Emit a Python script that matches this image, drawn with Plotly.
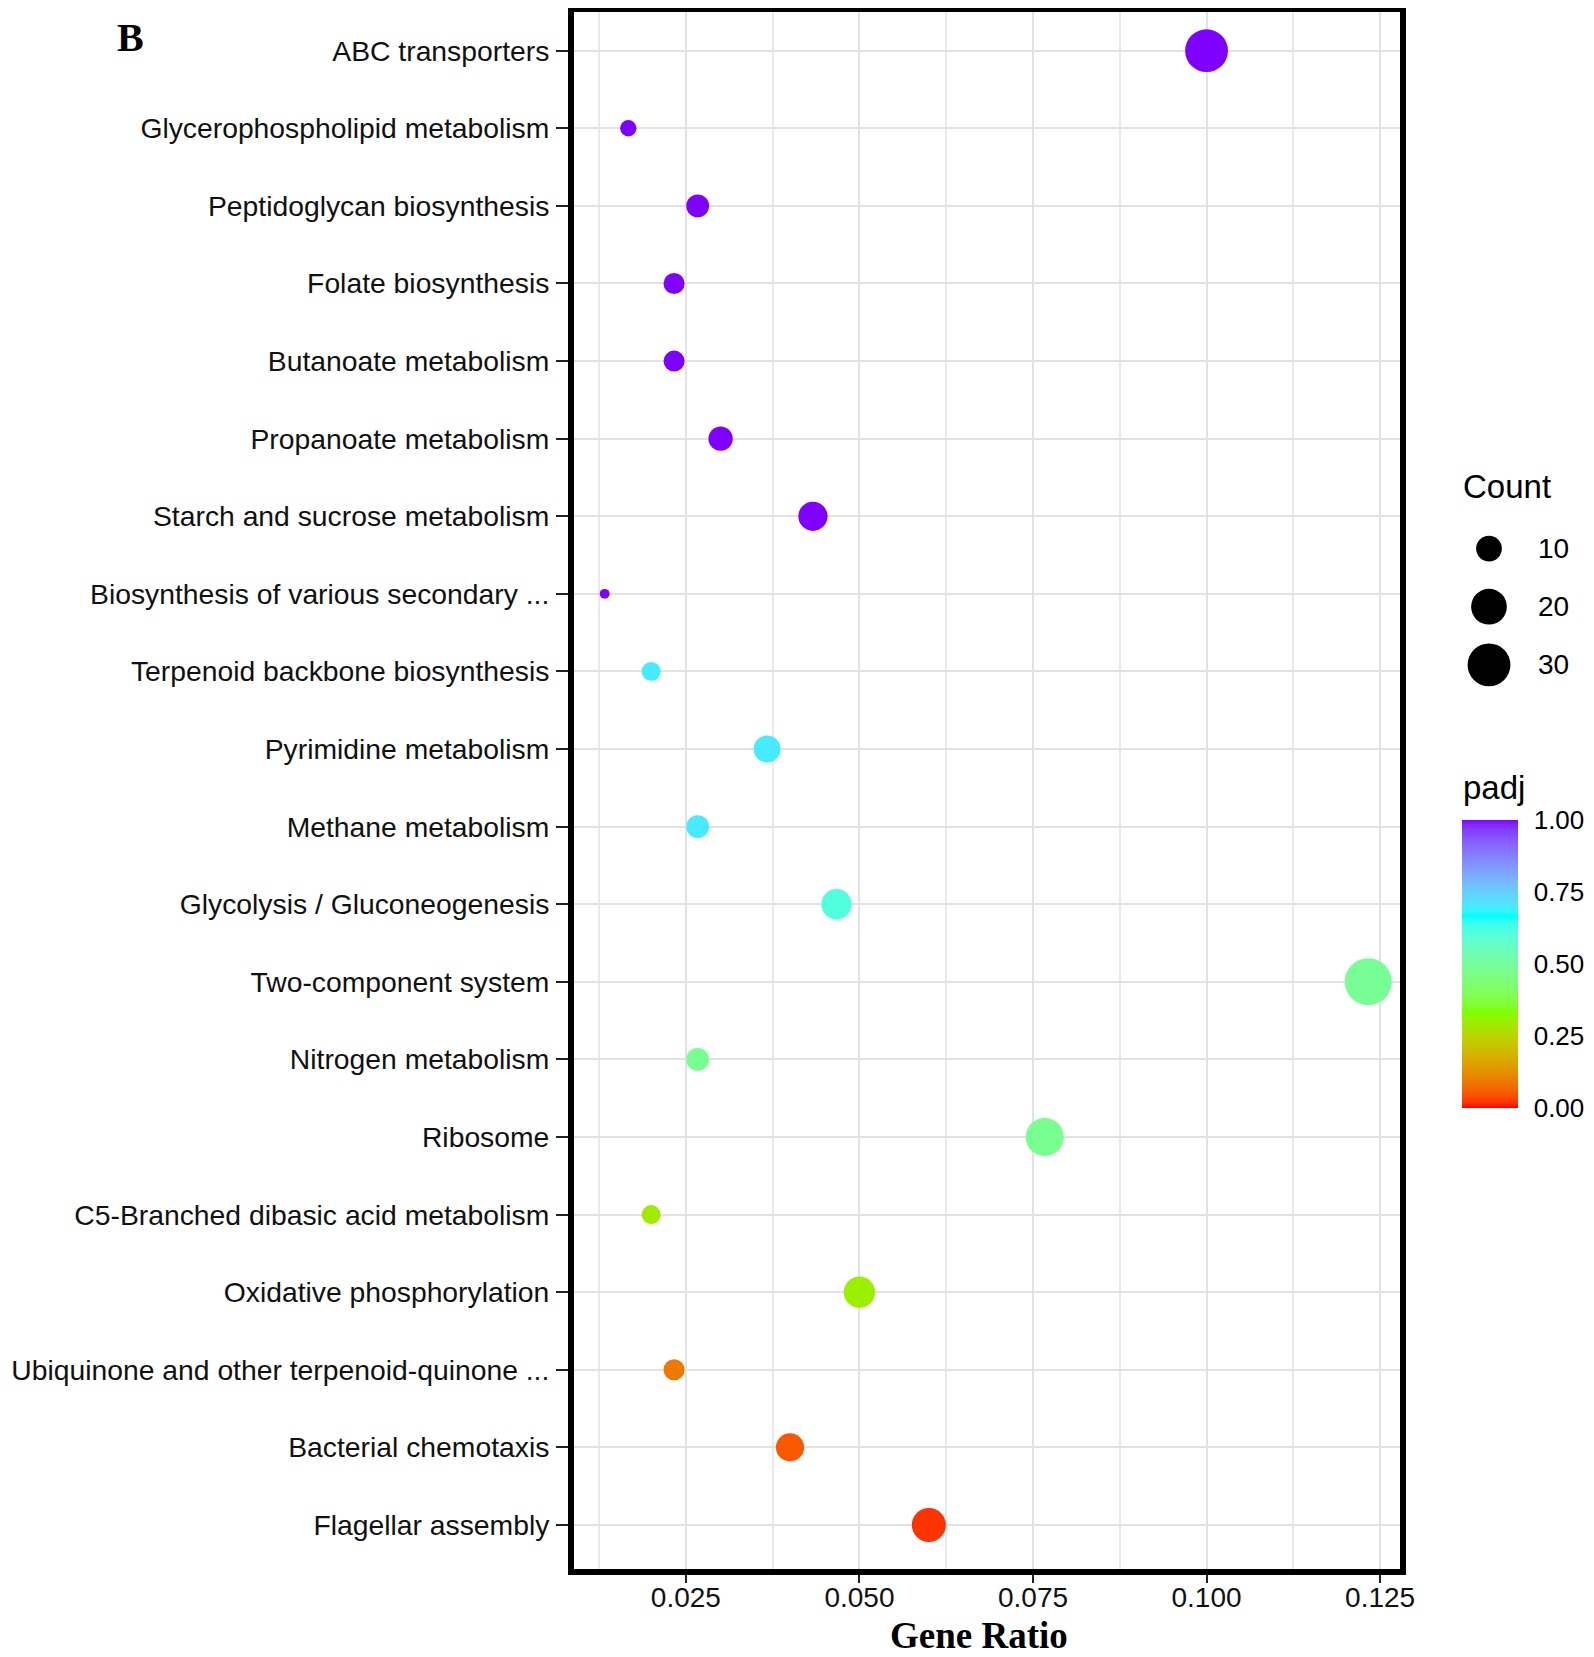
import numpy as np
import plotly.graph_objects as go

# ---------------- data ----------------
pathways = [
    "ABC transporters",
    "Glycerophospholipid metabolism",
    "Peptidoglycan biosynthesis",
    "Folate biosynthesis",
    "Butanoate metabolism",
    "Propanoate metabolism",
    "Starch and sucrose metabolism",
    "Biosynthesis of various secondary ...",
    "Terpenoid backbone biosynthesis",
    "Pyrimidine metabolism",
    "Methane metabolism",
    "Glycolysis / Gluconeogenesis",
    "Two-component system",
    "Nitrogen metabolism",
    "Ribosome",
    "C5-Branched dibasic acid metabolism",
    "Oxidative phosphorylation",
    "Ubiquinone and other terpenoid-quinone ...",
    "Bacterial chemotaxis",
    "Flagellar assembly",
]
gene_ratio = [0.1000, 0.0167, 0.0267, 0.0233, 0.0233, 0.0300, 0.0433, 0.0133,
              0.0200, 0.0367, 0.0267, 0.0467, 0.1233, 0.0267, 0.0767, 0.0200,
              0.0500, 0.0233, 0.0400, 0.0600]
counts = [30, 5, 8, 7, 7, 9, 13, 4, 6, 11, 8, 14, 37, 8, 23, 6, 15, 7, 12, 18]
padj = [1.00, 1.00, 1.00, 1.00, 1.00, 1.00, 1.00, 1.00,
        0.70, 0.70, 0.70, 0.61, 0.49, 0.48, 0.48, 0.29,
        0.30, 0.09, 0.05, 0.02]

x_ticks = [0.025, 0.050, 0.075, 0.100, 0.125]
x_ticktext = ["0.025", "0.050", "0.075", "0.100", "0.125"]
legend_counts = [10, 20, 30]
cbar_ticks = [0.0, 0.25, 0.5, 0.75, 1.0]
cbar_ticktext = ["0.00", "0.25", "0.50", "0.75", "1.00"]

# ---------------- colour scale (rainbow(4), Lab interpolation) ----------------
base_cols = ["#FF0000", "#80FF00", "#00FFFF", "#8000FF"]
WHITE = np.array([0.95047, 1.0, 1.08883])
M = np.array([[0.4124, 0.3576, 0.1805], [0.2126, 0.7152, 0.0722], [0.0193, 0.1192, 0.9505]])
Minv = np.linalg.inv(M)


def hex_to_lab(h):
    rgb = np.array([int(h[i:i + 2], 16) / 255 for i in (1, 3, 5)])
    lin = np.where(rgb <= 0.04045, rgb / 12.92, ((rgb + 0.055) / 1.055) ** 2.4)
    xyz = M @ lin / WHITE
    f = np.where(xyz > 0.008856, np.cbrt(xyz), 7.787 * xyz + 16 / 116)
    return np.array([116 * f[1] - 16, 500 * (f[0] - f[1]), 200 * (f[1] - f[2])])


def lab_to_hex(lab):
    L, a, b = lab
    fy = (L + 16) / 116
    fx = fy + a / 500
    fz = fy - b / 200
    f = np.array([fx, fy, fz])
    xyz = np.where(f ** 3 > 0.008856, f ** 3, (f - 16 / 116) / 7.787) * WHITE
    lin = np.clip(Minv @ xyz, 0, 1)
    rgb = np.where(lin <= 0.0031308, 12.92 * lin, 1.055 * lin ** (1 / 2.4) - 0.055)
    rgb = np.clip(rgb, 0, 1)
    return "#%02x%02x%02x" % tuple(int(round(v * 255)) for v in rgb)


labs = [hex_to_lab(c) for c in base_cols]
colorscale = []
nstops = 61
for i in range(nstops):
    t = i / (nstops - 1)
    seg = min(int(t * 3), 2)
    u = t * 3 - seg
    colorscale.append([t, lab_to_hex(labs[seg] * (1 - u) + labs[seg + 1] * u)])

# ---------------- size scale (ggplot-like area scale) ----------------
cmin, cmax = min(counts), max(counts)


def to_diam(c):
    s = 1 + 5 * np.sqrt((np.asarray(c, float) - cmin) / (cmax - cmin))
    return 2.61 * (2.845 * s + 0.945)


# ---------------- geometry (page coords -> figure coords, body margin 8px) ----------------
OFF = 8
W, H = 1594 - OFF, 1657 - OFF
ML = 571 - OFF
MT = 1
MB = H - (1572 - OFF)
MR = 0
PW = W - ML - MR
PH = H - MT - MB


def px(page_x):
    return (page_x - OFF - ML) / PW


def py(page_y):
    return 1 - (page_y - OFF - MT) / PH


plot_top_page = MT + OFF
plot_bot_page = 1572
cat_top_page, cat_bot_page = 50.7, 1525.0
step = (cat_bot_page - cat_top_page) / (len(pathways) - 1)
y_range = [len(pathways) - 1 + (plot_bot_page - cat_bot_page) / step,
           -(cat_top_page - plot_top_page) / step]

FONT = "Liberation Sans, Arial, Helvetica, sans-serif"
SERIF = "Liberation Serif, Times New Roman, serif"

# colorbar geometry (page coords)
cb_left, cb_right, cb_top, cb_bot = 1462, 1518, 820, 1108

fig = go.Figure()

fig.add_trace(go.Scatter(
    x=gene_ratio, y=pathways, mode="markers",
    marker=dict(
        size=to_diam(counts), sizemode="diameter",
        color=padj, colorscale=colorscale, cmin=0, cmax=1,
        line=dict(width=0), opacity=1,
        colorbar=dict(
            x=px(cb_left), xanchor="left", xpad=0,
            y=py((cb_top + cb_bot) / 2), yanchor="middle", ypad=0,
            thickness=cb_right - cb_left, len=cb_bot - cb_top, lenmode="pixels",
            outlinewidth=0,
            tickvals=cbar_ticks, ticktext=cbar_ticktext,
            ticks="outside", ticklen=11, tickwidth=1, tickcolor="white",
            tickfont=dict(family=FONT, size=26, color="black"),
        ),
    ),
    showlegend=False, hoverinfo="x+y",
    xaxis="x", yaxis="y",
))

# size legend (numeric y axis: one row per legend count)
leg_y = [548.6, 664.9]
leg_step_px = (leg_y[1] - leg_y[0]) / (len(legend_counts) - 1)
leg_unit = legend_counts[1] - legend_counts[0]

fig.add_trace(go.Scatter(
    x=[0.5] * len(legend_counts), y=legend_counts, mode="markers",
    marker=dict(size=to_diam(legend_counts), color="#000000", opacity=1, line=dict(width=0)),
    showlegend=False, hoverinfo="skip", xaxis="x2", yaxis="y2",
))

fig.update_layout(
    width=W, height=H,
    margin=dict(l=ML, r=MR, t=MT, b=MB, pad=0),
    paper_bgcolor="white", plot_bgcolor="white",
    font=dict(family=FONT, color="black"),
    xaxis=dict(
        domain=[0, px(1403)],
        range=[0.00845, 0.1283],
        tickvals=x_ticks, ticktext=x_ticktext,
        tickfont=dict(family=FONT, size=28, color="#111111"),
        ticks="outside", ticklen=10, tickwidth=2, tickcolor="#222222",
        ticklabelstandoff=-10,
        showgrid=True, gridcolor="#E2E2E2", gridwidth=2.2,
        minor=dict(dtick=0.0125, tick0=0.0125, showgrid=True, gridcolor="#EAEAEA",
                   gridwidth=1.5, ticks=""),
        zeroline=False, showline=False, automargin=False,
    ),
    yaxis=dict(
        type="category", categoryorder="array", categoryarray=pathways,
        range=y_range,
        tickfont=dict(family=FONT, size=28.3, color="#111111"),
        ticks="outside", ticklen=14, tickwidth=2, tickcolor="#222222",
        ticklabelstandoff=1,
        showgrid=True, gridcolor="#E2E2E2", gridwidth=2.2,
        zeroline=False, showline=False, automargin=False,
    ),
    xaxis2=dict(domain=[px(1459), px(1579)], range=[0, 2], visible=False,
                anchor="y2", automargin=False),
    yaxis2=dict(domain=[py(leg_y[1] + leg_step_px / 2), py(leg_y[0] - leg_step_px / 2)],
                range=[legend_counts[-1] + leg_unit / 2, legend_counts[0] - leg_unit / 2],
                visible=False, anchor="x2", automargin=False),
)

# panel border
fig.add_shape(type="rect", xref="x domain", yref="y domain", x0=0, x1=1, y0=0, y1=1,
              line=dict(color="black", width=6), fillcolor="rgba(0,0,0,0)", layer="above")

# white inner tick marks on the colour bar (ggplot style)
for v in cbar_ticks[1:-1]:
    yy = py(cb_bot - v * (cb_bot - cb_top))
    for xa, xb in ((cb_left, cb_left + 9), (cb_right - 9, cb_right)):
        fig.add_shape(type="line", xref="paper", yref="paper",
                      x0=px(xa), x1=px(xb), y0=yy, y1=yy,
                      line=dict(color="white", width=2), layer="above")

# size legend labels and titles
for c in legend_counts:
    fig.add_annotation(x=1.28, y=c, xref="x2", yref="y2", text=str(c), showarrow=False,
                       xanchor="left", yanchor="middle",
                       font=dict(family=FONT, size=28, color="black"))
fig.add_annotation(x=px(1461), y=py(486), xref="paper", yref="paper", text="Count",
                   showarrow=False, xanchor="left", yanchor="middle",
                   font=dict(family=FONT, size=33, color="black"))
fig.add_annotation(x=px(1461), y=py(787), xref="paper", yref="paper", text="padj",
                   showarrow=False, xanchor="left", yanchor="middle",
                   font=dict(family=FONT, size=33, color="black"))

# axis title and panel tag
fig.add_annotation(x=px(979), y=py(1656.5), xref="paper", yref="paper", text="<b>Gene Ratio</b>",
                   showarrow=False, xanchor="center", yanchor="bottom", borderpad=0,
                   font=dict(family=SERIF, size=37, color="black"))
fig.add_annotation(x=px(130), y=py(38), xref="paper", yref="paper", text="<b>B</b>",
                   showarrow=False, xanchor="center", yanchor="middle",
                   font=dict(family=SERIF, size=40, color="black"))

fig.write_html("out.html")
